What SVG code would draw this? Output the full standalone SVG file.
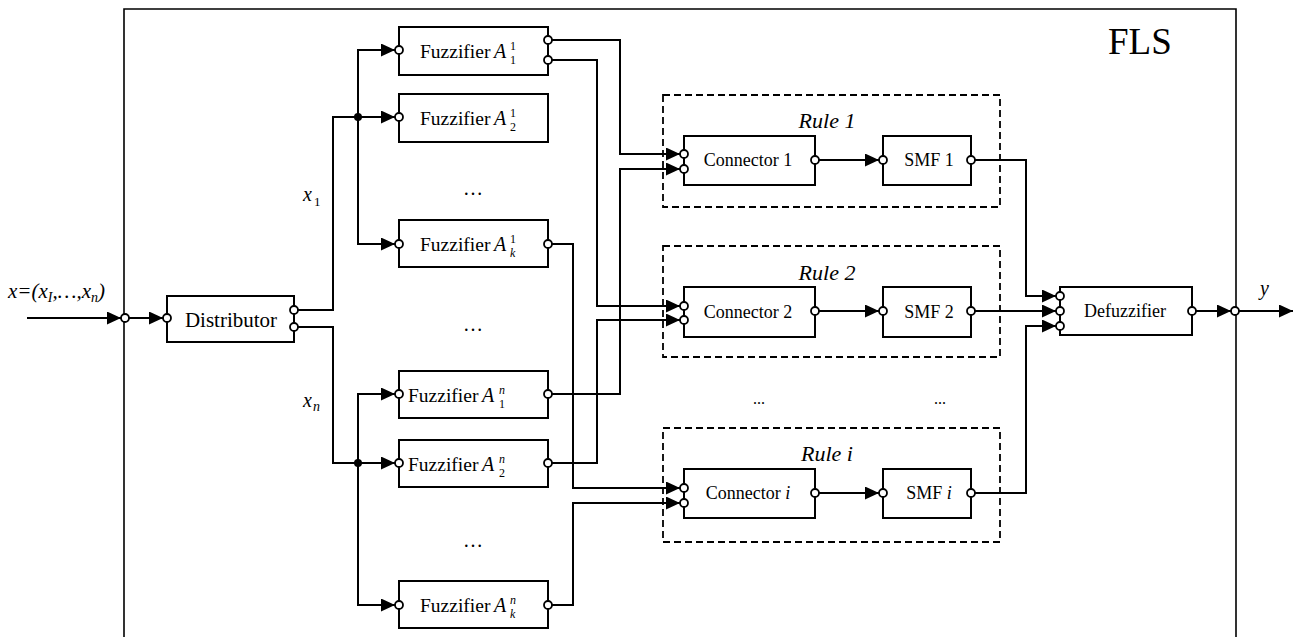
<svg xmlns="http://www.w3.org/2000/svg" width="1293" height="637" viewBox="0 0 1293 637">
<defs>
<marker id="arr" markerUnits="userSpaceOnUse" markerWidth="15" markerHeight="14" refX="14" refY="6.5" orient="auto">
<path d="M0,0 L14,6.5 L0,13 z" fill="#000"/>
</marker>
<style>
.box{fill:#fff;stroke:#000;stroke-width:2}
.rule{fill:none;stroke:#000;stroke-width:1.8;stroke-dasharray:7,4}
.w{fill:none;stroke:#000;stroke-width:2}
.a{marker-end:url(#arr)}
.p{fill:#fff;stroke:#000;stroke-width:1.8}
.t{font-family:"Liberation Serif",serif;fill:#000}
.it{font-family:"Liberation Serif",serif;font-style:italic;fill:#000}
.s{font-family:"Liberation Serif",serif;font-size:12px;fill:#000}
</style>
</defs>
<rect width="1293" height="637" fill="#fff"/>
<g id="fls">
<path d="M124,640 V9 H1236 V640" fill="none" stroke="#000" stroke-width="1.6"/>
<text class="t" x="1108" y="54" font-size="37">FLS</text>
</g>
<g id="connectors">
<path class="w a" d="M27,318 H121"/>
<path class="w a" d="M129,318 H163"/>
<path class="w a" d="M298,310 H333 V117 H395"/>
<path class="w a" d="M358,117 V50 H395"/>
<path class="w a" d="M358,117 V244 H395"/>
<path class="w a" d="M298,327 H333 V463 H395"/>
<path class="w a" d="M358,463 V394 H395"/>
<path class="w a" d="M358,463 V605 H395"/>
<circle cx="358" cy="117" r="4" fill="#000"/>
<circle cx="358" cy="463" r="4" fill="#000"/>
<path class="w a" d="M552,40 H620 V154 H680"/>
<path class="w a" d="M552,60 H597 V306 H680"/>
<path class="w a" d="M552,394 H620 V169 H680"/>
<path class="w a" d="M552,463 H597 V320 H680"/>
<path class="w a" d="M552,244 H573 V488 H680"/>
<path class="w a" d="M552,605 H573 V503 H680"/>
<path class="w a" d="M819,160 H879"/>
<path class="w a" d="M819,311 H879"/>
<path class="w a" d="M819,493 H879"/>
<path class="w a" d="M975,160 H1026 V296 H1056"/>
<path class="w a" d="M975,311 H1056"/>
<path class="w a" d="M975,493 H1026 V326 H1056"/>
<path class="w a" d="M1196,311 H1231"/>
<path class="w a" d="M1239,311 H1293"/>
</g>
<g id="labels">
<text class="it" x="8" y="298" font-size="21">x=(x<tspan font-size="14" dy="4">I</tspan><tspan dy="-4">,…,x</tspan><tspan font-size="14" dy="4">n</tspan><tspan dy="-4">)</tspan></text>
<text class="it" x="303" y="201" font-size="20">x</text><text class="t" x="314" y="206" font-size="13">1</text>
<text class="it" x="303" y="407" font-size="20">x</text><text class="it" x="313" y="411" font-size="14">n</text>
<text class="it" x="1260" y="295" font-size="20">y</text>
<text class="t" x="473" y="195" text-anchor="middle" font-size="20">…</text>
<text class="t" x="473" y="331" text-anchor="middle" font-size="20">…</text>
<text class="t" x="473" y="547" text-anchor="middle" font-size="20">…</text>
<text class="t" x="759" y="404" text-anchor="middle" font-size="16">...</text>
<text class="t" x="940" y="404" text-anchor="middle" font-size="16">...</text>
</g>
<g id="in-port"><circle class="p" cx="125" cy="318" r="4"/></g>
<g id="out-port"><circle class="p" cx="1235" cy="311" r="4"/></g>
<g id="distributor">
<rect class="box" x="167" y="296" width="127" height="46"/>
<text class="t" x="231" y="327" text-anchor="middle" font-size="21">Distributor</text>
<circle class="p" cx="167" cy="318" r="4"/>
<circle class="p" cx="294" cy="310" r="4"/>
<circle class="p" cx="294" cy="327" r="4"/>
</g>
<g id="fuzz-1-1">
<rect class="box" x="399" y="27" width="149" height="48"/>
<text class="t" x="420" y="58" font-size="19.5">Fuzzifier</text>
<text class="it" x="494" y="58" font-size="20">A</text><text class="s" x="510" y="50">1</text><text class="s" x="510" y="64">1</text>
<circle class="p" cx="399" cy="50" r="4"/>
<circle class="p" cx="548" cy="40" r="4"/>
<circle class="p" cx="548" cy="60" r="4"/>
</g>
<g id="fuzz-2-1">
<rect class="box" x="399" y="94" width="149" height="48"/>
<text class="t" x="420" y="125" font-size="19.5">Fuzzifier</text>
<text class="it" x="494" y="125" font-size="20">A</text><text class="s" x="510" y="117">1</text><text class="s" x="510" y="131">2</text>
<circle class="p" cx="399" cy="117" r="4"/>
</g>
<g id="fuzz-k-1">
<rect class="box" x="399" y="220" width="149" height="47"/>
<text class="t" x="420" y="251" font-size="19.5">Fuzzifier</text>
<text class="it" x="494" y="251" font-size="20">A</text><text class="s" x="510" y="243">1</text><text class="s" x="510" y="257" font-style="italic">k</text>
<circle class="p" cx="399" cy="244" r="4"/>
<circle class="p" cx="548" cy="244" r="4"/>
</g>
<g id="fuzz-1-n">
<rect class="box" x="399" y="371" width="149" height="47"/>
<text class="t" x="408" y="402" font-size="19.5">Fuzzifier</text>
<text class="it" x="482" y="402" font-size="20">A</text><text class="s" x="499" y="394" font-style="italic">n</text><text class="s" x="499" y="408">1</text>
<circle class="p" cx="399" cy="394" r="4"/>
<circle class="p" cx="548" cy="394" r="4"/>
</g>
<g id="fuzz-2-n">
<rect class="box" x="399" y="440" width="149" height="47"/>
<text class="t" x="408" y="471" font-size="19.5">Fuzzifier</text>
<text class="it" x="482" y="471" font-size="20">A</text><text class="s" x="499" y="463" font-style="italic">n</text><text class="s" x="499" y="477">2</text>
<circle class="p" cx="399" cy="463" r="4"/>
<circle class="p" cx="548" cy="463" r="4"/>
</g>
<g id="fuzz-k-n">
<rect class="box" x="399" y="581" width="149" height="47"/>
<text class="t" x="420" y="612" font-size="19.5">Fuzzifier</text>
<text class="it" x="494" y="612" font-size="20">A</text><text class="s" x="510" y="604" font-style="italic">n</text><text class="s" x="510" y="618" font-style="italic">k</text>
<circle class="p" cx="399" cy="605" r="4"/>
<circle class="p" cx="548" cy="605" r="4"/>
</g>
<g id="rule-1">
<rect class="rule" x="663" y="95" width="337" height="112"/>
<text class="it" x="827" y="128" font-size="22" text-anchor="middle">Rule 1</text>
</g>
<g id="rule-2">
<rect class="rule" x="663" y="246" width="337" height="111"/>
<text class="it" x="827" y="280" font-size="22" text-anchor="middle">Rule 2</text>
</g>
<g id="rule-i">
<rect class="rule" x="663" y="428" width="337" height="114"/>
<text class="it" x="827" y="461" font-size="22" text-anchor="middle">Rule i</text>
</g>
<g id="connector-1">
<rect class="box" x="684" y="136" width="131" height="49"/>
<text class="t" x="748" y="166" text-anchor="middle" font-size="18">Connector 1</text>
<circle class="p" cx="684" cy="154" r="4"/>
<circle class="p" cx="684" cy="169" r="4"/>
<circle class="p" cx="815" cy="160" r="4"/>
</g>
<g id="connector-2">
<rect class="box" x="684" y="287" width="131" height="50"/>
<text class="t" x="748" y="318" text-anchor="middle" font-size="18">Connector 2</text>
<circle class="p" cx="684" cy="306" r="4"/>
<circle class="p" cx="684" cy="320" r="4"/>
<circle class="p" cx="815" cy="311" r="4"/>
</g>
<g id="connector-i">
<rect class="box" x="684" y="469" width="131" height="49"/>
<text class="t" x="748" y="499" text-anchor="middle" font-size="18">Connector <tspan font-style="italic">i</tspan></text>
<circle class="p" cx="684" cy="488" r="4"/>
<circle class="p" cx="684" cy="503" r="4"/>
<circle class="p" cx="815" cy="493" r="4"/>
</g>
<g id="smf-1">
<rect class="box" x="883" y="136" width="88" height="49"/>
<text class="t" x="929" y="166" text-anchor="middle" font-size="18">SMF 1</text>
<circle class="p" cx="883" cy="160" r="4"/>
<circle class="p" cx="971" cy="160" r="4"/>
</g>
<g id="smf-2">
<rect class="box" x="883" y="287" width="88" height="50"/>
<text class="t" x="929" y="318" text-anchor="middle" font-size="18">SMF 2</text>
<circle class="p" cx="883" cy="311" r="4"/>
<circle class="p" cx="971" cy="311" r="4"/>
</g>
<g id="smf-i">
<rect class="box" x="883" y="469" width="88" height="49"/>
<text class="t" x="929" y="499" text-anchor="middle" font-size="18">SMF <tspan font-style="italic">i</tspan></text>
<circle class="p" cx="883" cy="493" r="4"/>
<circle class="p" cx="971" cy="493" r="4"/>
</g>
<g id="defuzzifier">
<rect class="box" x="1060" y="287" width="132" height="48"/>
<text class="t" x="1125" y="317" text-anchor="middle" font-size="18">Defuzzifier</text>
<circle class="p" cx="1060" cy="296" r="4"/>
<circle class="p" cx="1060" cy="311" r="4"/>
<circle class="p" cx="1060" cy="326" r="4"/>
<circle class="p" cx="1192" cy="311" r="4"/>
</g>
</svg>
